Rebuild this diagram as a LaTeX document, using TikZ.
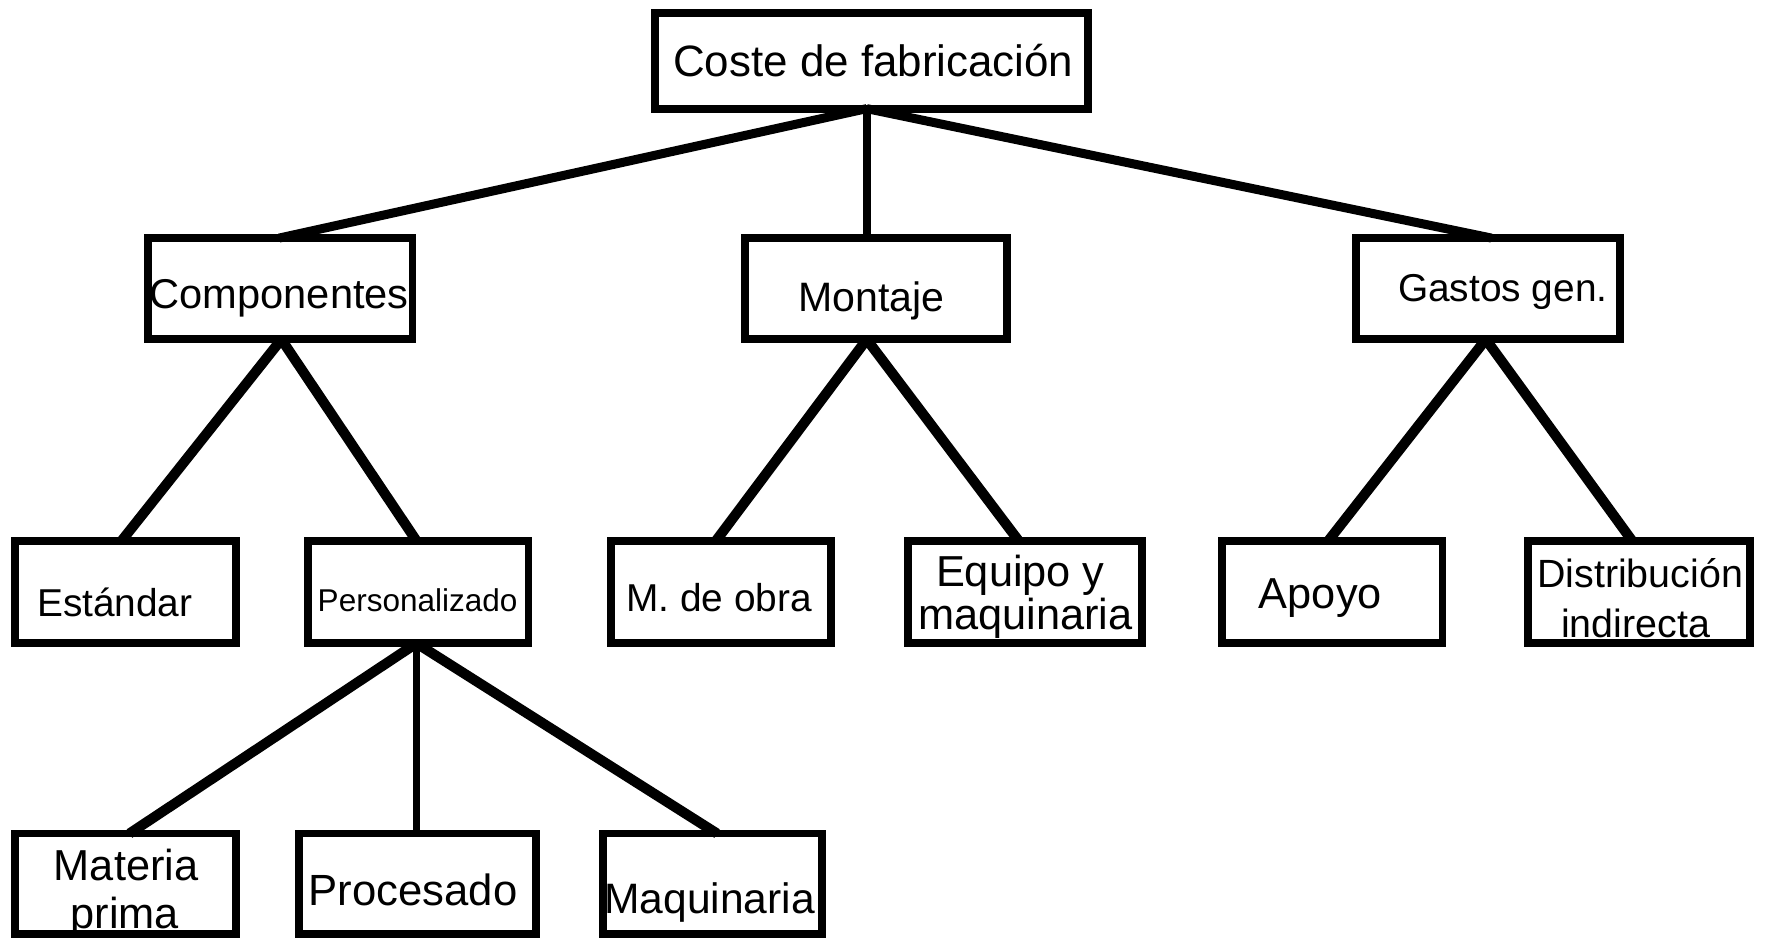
\documentclass[tikz,border=0pt]{standalone}
\usepackage{fontspec}
\setmainfont{Liberation Sans}
\newcommand\setfs[1]{\fontsize{#1}{#1}\selectfont}
\begin{document}
\begin{tikzpicture}[x=1pt,y=-1pt,
  box/.style={draw, line width=7pt, minimum width=#1, minimum height=90pt, inner sep=0pt, outer sep=0pt},
  lowbox/.style={box=#1, minimum height=89.6pt},
  toplink/.style={line width=8pt},
  link/.style={line width=9pt},
  vlink/.style={line width=7pt},
  txt/.style={anchor=base, inner sep=0pt, outer sep=0pt, font=\setfs{#1}}]
\useasboundingbox (0,0) rectangle (1568,834.2);
% boxes
\node[box=385pt, minimum height=85pt] (top) at (774,54) {};
\node[box=235pt] (comp) at (249,256.5) {};
\node[box=233pt] (mont) at (778,256.5) {};
\node[box=235pt] (gas) at (1322,256.5) {};
\node[box=196pt, minimum height=91pt] (est) at (111.5,526) {};
\node[box=196pt, minimum height=91pt] (pers) at (371.5,526) {};
\node[box=196pt, minimum height=91pt] (mde) at (640.5,526) {};
\node[box=208pt, minimum height=91pt] (equ) at (910.5,526) {};
\node[box=196pt, minimum height=91pt] (apo) at (1183.5,526) {};
\node[box=197pt, minimum height=91pt] (dis) at (1456,526) {};
\node[lowbox=196pt] (mat) at (111.5,785.3) {};
\node[lowbox=211pt] (pro) at (371,785.3) {};
\node[lowbox=195pt] (maq) at (633,785.3) {};
% texts
\node[txt=39] (t-top) at (775.8,68) {Coste de fabricación};
\node[txt=37] (t-comp) at (248,274) {Componentes};
\node[txt=36.5] (t-mont) at (774.4,276.6) {Montaje};
\node[txt=34.5] (t-gas) at (1335,268) {Gastos gen.};
\node[txt=34.5] (t-est) at (102,547.6) {Estándar};
\node[txt=28] (t-pers) at (371,543.3) {Personalizado};
\node[txt=34.5] (t-mde) at (639,543.6) {M. de obra};
\node[txt=38.5] (t-equ1) at (906.5,520.7) {Equipo y};
\node[txt=38.5] (t-equ2) at (911,559.3) {maquinaria};
\node[txt=38.5] (t-apo) at (1173,541) {Apoyo};
\node[txt=35] (t-dis1) at (1457,521.7) {Distribución};
\node[txt=35] (t-dis2) at (1453,566.3) {indirecta};
\node[txt=38.5] (t-mat1) at (112,781.8) {Materia};
\node[txt=38.5] (t-mat2) at (110.8,824.7) {prima};
\node[txt=38.8] (t-pro) at (367,804) {Procesado};
\node[txt=37.8] (t-maq) at (630.5,811.4) {Maquinaria};
% connectors
\draw[toplink] ([xshift=-4pt]top.south) -- ([xshift=-1pt]comp.north);
\draw[vlink] ([xshift=-4pt]top.south) -- ([xshift=-8pt]mont.north);
\draw[toplink] ([xshift=-4pt]top.south) -- ([xshift=3pt]gas.north);
\draw[link] ([xshift=1pt]comp.south) -- ([xshift=-3.5pt]est.north);
\draw[link] ([xshift=1pt]comp.south) -- ([xshift=-1.5pt]pers.north);
\draw[link] ([xshift=-8pt]mont.south) -- ([xshift=-4.5pt]mde.north);
\draw[link] ([xshift=-8pt]mont.south) -- ([xshift=-5.5pt]equ.north);
\draw[link] ([xshift=-2pt]gas.south) -- ([xshift=-3.5pt]apo.north);
\draw[link] ([xshift=-2pt]gas.south) -- ([xshift=-6pt]dis.north);
\draw[link] ([xshift=-1.5pt]pers.south) -- ([xshift=3.5pt]mat.north);
\draw[vlink] ([xshift=-1.5pt]pers.south) -- ([xshift=-1pt]pro.north);
\draw[link] ([xshift=-1.5pt]pers.south) -- ([xshift=4pt]maq.north);
\end{tikzpicture}
\end{document}
